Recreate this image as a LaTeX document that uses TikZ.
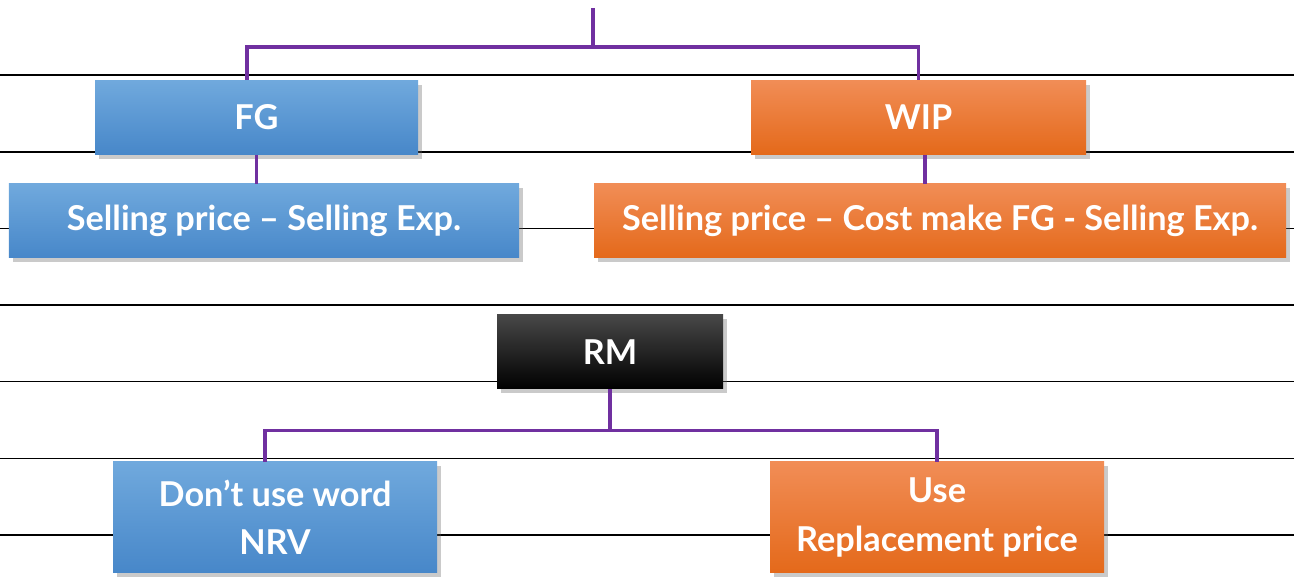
\documentclass[tikz,border=0pt]{standalone}
\usepackage{fontspec}
\setmainfont{Lato}
\usetikzlibrary{shadows}

\definecolor{busviolet}{HTML}{7030A0}
\definecolor{bluetop}{HTML}{70A9DD}
\definecolor{bluebot}{HTML}{4787C9}
\definecolor{orangetop}{HTML}{F18D56}
\definecolor{orangemid}{HTML}{F07F2E}
\definecolor{orangebot}{HTML}{E4691A}

\begin{document}
\begin{tikzpicture}[
  x=1cm, y=1cm,
  font=\fontsize{19.5}{27.5}\selectfont\bfseries,
  box/.style={text=white, align=center, inner sep=2pt,
              minimum height=1.48cm,
              drop shadow={shadow xshift=2pt, shadow yshift=-2.5pt,
                           opacity=0.35, fill=black!60}},
  bluebox/.style={box, top color=bluetop, bottom color=bluebot},
  orangebox/.style={box, top color=orangetop, middle color=orangemid,
                    bottom color=orangebot},
  blackbox/.style={box, top color=black!72, middle color=black,
                   bottom color=black},
  bus/.style={draw=busviolet, line width=1.8pt},
  rule/.style={draw=black, line width=0.9pt},
]
\useasboundingbox (0,0) rectangle (25.88,11.56);

% ---------- ruled lines ----------
\foreach \i in {0,...,6}
  \draw[rule] (0,{0.86+1.533*\i}) -- (25.88,{0.86+1.533*\i});

% ---------- FG / WIP ----------
\node[bluebox, minimum width=6.46cm] (fg) at (5.13,9.21) {FG};
\node[bluebox, minimum width=10.2cm] (fgf) at (5.28,7.14)
  {Selling price – Selling Exp.};

\node[orangebox, minimum width=6.7cm] (wip) at (18.37,9.21) {WIP};
\node[orangebox, minimum width=13.84cm] (wipf) at (18.8,7.14)
  {Selling price – Cost make FG - Selling Exp.};

% ---------- RM ----------
\node[blackbox, minimum width=4.52cm] (rm) at (12.2,4.52) {RM};
\node[bluebox, minimum width=6.48cm, minimum height=2.22cm] (nrv) at (5.5,1.21)
  {Don’t use word\\NRV};
\node[orangebox, minimum width=6.68cm, minimum height=2.22cm] (repl) at (18.74,1.21)
  {Use\\Replacement price};

% ---------- connectors ----------
\coordinate (top) at (11.86,11.4);
\coordinate (fork1) at (11.86,10.62);
\draw[bus] (top) -- (fork1);
\draw[bus] ([xshift=-0.19cm]fg.north) |- (fork1) -| (wip.north);
\draw[bus] (fg.south) -- (fg.south |- fgf.north);
\draw[bus] ([xshift=0.13cm]wip.south) -- ([xshift=0.13cm]wip.south |- wipf.north);

\draw[bus] (rm.south) -- ++(0,-0.82) coordinate (fork2);
\draw[bus] ([xshift=-0.2cm]nrv.north) |- (fork2) -| (repl.north);

\end{tikzpicture}
\end{document}
